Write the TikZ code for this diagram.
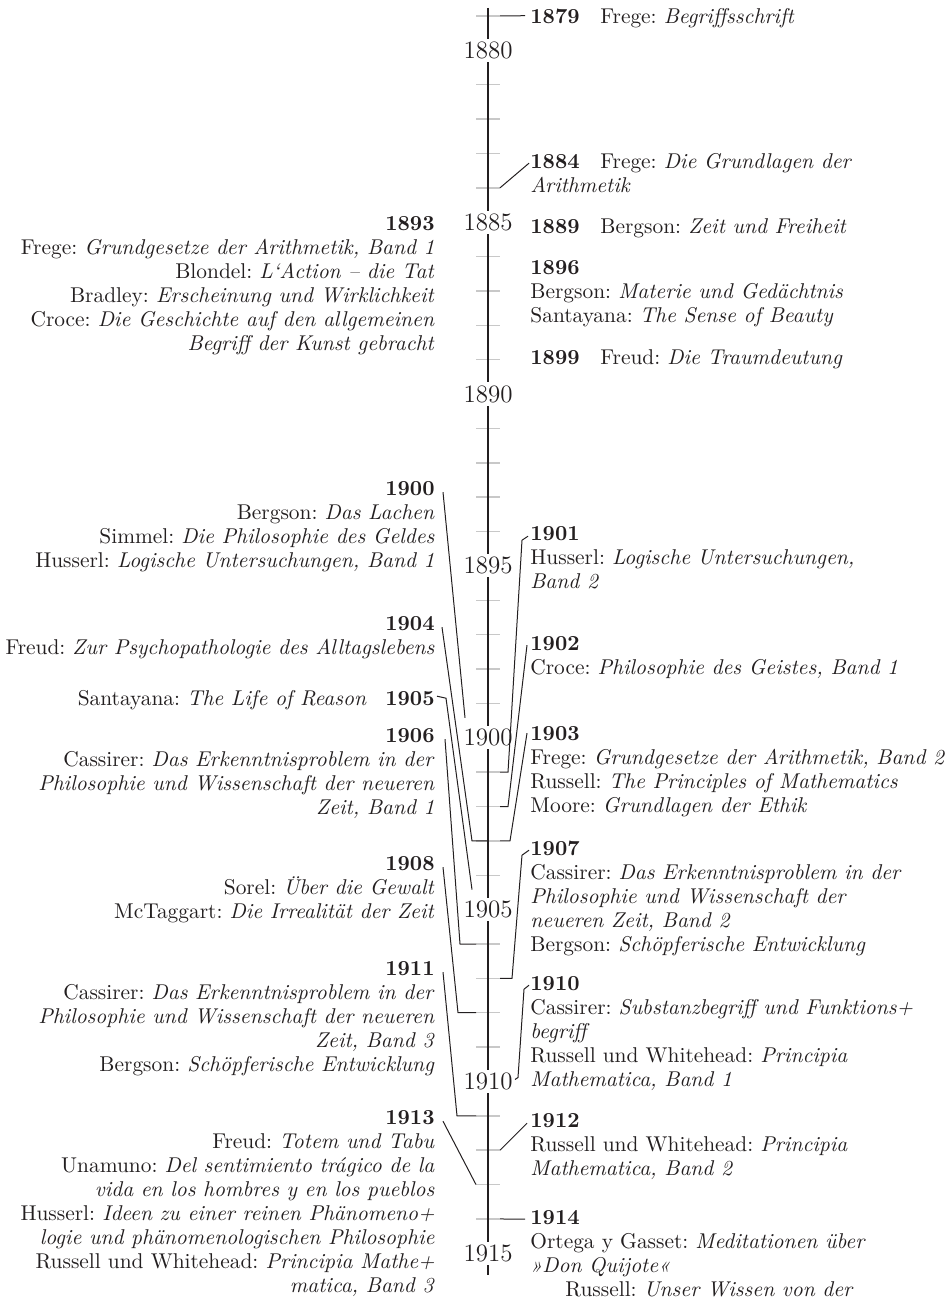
\documentclass[tikz,border=0pt]{standalone}
\usepackage{fontspec}
\frenchspacing
\definecolor{ink}{HTML}{231F20}
\definecolor{tickgray}{HTML}{C8C8C8}
\newcommand\yearhead[1]{\makebox[35pt][l]{\textbf{#1}}}
\newcommand\yeartail[1]{\makebox[34pt][r]{\textbf{#1}}}
\begin{document}
\begin{tikzpicture}[x=0.5pt,y=-0.5pt]
\tikzstyle{entry}=[inner sep=0pt,text=ink,font=\fontsize{10.7}{12}\selectfont,execute at begin node=\strut]
\tikzstyle{lefttext}=[entry,align=right,anchor=north east]
\tikzstyle{righttext}=[entry,align=left,anchor=north west]
\tikzstyle{tickmark}=[tickgray,line width=0.75pt]
\tikzstyle{link}=[ink,line width=0.5pt]
\tikzstyle{yearlabel}=[fill=white,inner sep=1.5pt,text=ink,font=\fontsize{12.5}{15}\selectfont]
\useasboundingbox (0,0) rectangle (947,1300);
\foreach \yr in {1879,...,1915}
{\pgfmathsetmacro\yy{16+(\yr-1879)*34.37}
 \coordinate (c\yr) at (488,\yy);
 \coordinate (tl\yr) at (476,\yy);
 \coordinate (tr\yr) at (500,\yy);
 \pgfmathtruncatemacro\m{mod(\yr,5)}
 \ifnum\m>0 \draw[tickmark] (tl\yr) -- (tr\yr); \fi}
\coordinate (axtop) at (488,8);
\coordinate (axbot) at (488,1275);
\draw[ink,line width=1pt] (axtop) -- (axbot);
\foreach \yr in {1880,1885,...,1915}
 \node[yearlabel] (y\yr) at (c\yr) {\yr};

\node[lefttext] (l1893) at (435,216.2) {\textbf{1893}\\
 Frege: \emph{Grundgesetze der Arithmetik, Band 1}\\
 Blondel: \emph{L‘Action – die Tat}\\
 Bradley: \emph{Erscheinung und Wirklichkeit}\\
 Croce: \emph{Die Geschichte auf den allgemeinen}\\
 \emph{Begriff der Kunst gebracht}};
\node[lefttext] (l1900) at (435,481.2) {\textbf{1900}\\
 Bergson: \emph{Das Lachen}\\
 Simmel: \emph{Die Philosophie des Geldes}\\
 Husserl: \emph{Logische Untersuchungen, Band 1}};
\node[lefttext] (l1904) at (435,616.2) {\textbf{1904}\\
 Freud: \emph{Zur Psychopathologie des Alltagslebens}};
\node[lefttext] (l1905) at (435,688.2) {Santayana: \emph{The Life of Reason}\yeartail{1905}};
\node[lefttext] (l1906) at (435,728.2) {\textbf{1906}\\
 Cassirer: \emph{Das Erkenntnisproblem in der}\\
 \emph{Philosophie und Wissenschaft der neueren}\\
 \emph{Zeit, Band 1}};
\node[lefttext] (l1908) at (435,856.2) {\textbf{1908}\\
 Sorel: \emph{Über die Gewalt}\\
 McTaggart: \emph{Die Irrealität der Zeit}};
\node[lefttext] (l1911) at (435,961.2) {\textbf{1911}\\
 Cassirer: \emph{Das Erkenntnisproblem in der}\\
 \emph{Philosophie und Wissenschaft der neueren}\\
 \emph{Zeit, Band 3}\\
 Bergson: \emph{Schöpferische Entwicklung}};
\node[lefttext] (l1913) at (435,1110.2) {\textbf{1913}\\
 Freud: \emph{Totem und Tabu}\\
 Unamuno: \emph{Del sentimiento trágico de la}\\
 \emph{vida en los hombres y en los pueblos}\\
 Husserl: \emph{Ideen zu einer reinen Phänomeno+}\\
 \emph{logie und phänomenologischen Philosophie}\\
 Russell und Whitehead: \emph{Principia Mathe+}\\
 \emph{matica, Band 3}};

\node[righttext] (r1879) at (530,6.7) {\yearhead{1879}Frege: \emph{Begriffsschrift}};
\node[righttext] (r1884) at (530,153.2) {\yearhead{1884}Frege: \emph{Die Grundlagen der}\\
 \emph{Arithmetik}};
\node[righttext] (r1889) at (530,216.2) {\yearhead{1889}Bergson: \emph{Zeit und Freiheit}};
\node[righttext] (r1896) at (530,260.2) {\textbf{1896}\\
 Bergson: \emph{Materie und Gedächtnis}\\
 Santayana: \emph{The Sense of Beauty}};
\node[righttext] (r1899) at (530,347.2) {\yearhead{1899}Freud: \emph{Die Traumdeutung}};
\node[righttext] (r1901) at (530,526.2) {\textbf{1901}\\
 Husserl: \emph{Logische Untersuchungen,}\\
 \emph{Band 2}};
\node[righttext] (r1902) at (530,636.2) {\textbf{1902}\\
 Croce: \emph{Philosophie des Geistes, Band 1}};
\node[righttext] (r1903) at (530,726.2) {\textbf{1903}\\
 Frege: \emph{Grundgesetze der Arithmetik, Band 2}\\
 Russell: \emph{The Principles of Mathematics}\\
 Moore: \emph{Grundlagen der Ethik}};
\node[righttext] (r1907) at (530,840.2) {\textbf{1907}\\
 Cassirer: \emph{Das Erkenntnisproblem in der}\\
 \emph{Philosophie und Wissenschaft der}\\
 \emph{neueren Zeit, Band 2}\\
 Bergson: \emph{Schöpferische Entwicklung}};
\node[righttext] (r1910) at (530,976.2) {\textbf{1910}\\
 Cassirer: \emph{Substanzbegriff und Funktions+}\\
 \emph{begriff}\\
 Russell und Whitehead: \emph{Principia}\\
 \emph{Mathematica, Band 1}};
\node[righttext] (r1912) at (530,1113.2) {\textbf{1912}\\
 Russell und Whitehead: \emph{Principia}\\
 \emph{Mathematica, Band 2}};
\node[righttext] (r1914) at (530,1210.2) {\textbf{1914}\\
 Ortega y Gasset: \emph{Meditationen über}\\
 \emph{»Don Quijote«}\\
 \hspace*{17.5pt}Russell: \emph{Unser Wissen von der}};

\draw[link] ([shift={(8,11)}]l1900.north east) -- ([shift={(-23,-20)}]c1900);
\draw[link] ([shift={(7,11)}]l1904.north east) -- ([shift={(-16,0)}]c1903) -- (c1903);
\draw[link] ([shift={(2,8)}]l1905.north east) -- ([shift={(11,10)}]l1905.north east) -- ([shift={(-16,-20)}]c1905);
\draw[link] ([shift={(10,11)}]l1906.north east) -- ([shift={(-16,0)}]tl1906) -- (tl1906);
\draw[link] ([shift={(8,11)}]l1908.north east) -- ([shift={(-18,0)}]tl1908) -- (tl1908);
\draw[link] ([shift={(8,11)}]l1911.north east) -- ([shift={(-19,0)}]tl1911) -- (tl1911);
\draw[link] ([shift={(8,11)}]l1913.north east) -- (tl1913);

\draw[link] ([shift={(-5,9)}]r1879.north west) -- (tr1879);
\draw[link] ([shift={(-1,10)}]r1884.north west) -- (tr1884);
\draw[link] ([shift={(-2,10)}]r1901.north west) -- ([shift={(-8,14)}]r1901.north west) -- ([shift={(8,0)}]tr1901) -- (tr1901);
\draw[link] ([shift={(-3,9)}]r1902.north west) -- ([shift={(8,0)}]tr1902) -- (tr1902);
\draw[link] ([shift={(-3,7)}]r1903.north west) -- ([shift={(10,0)}]tr1903) -- (tr1903);
\draw[link] ([shift={(-1,10)}]r1907.north west) -- ([shift={(-8,15)}]r1907.north west) -- ([shift={(12,0)}]tr1907) -- (tr1907);
\draw[link] ([shift={(-1,9)}]r1910.north west) -- ([shift={(-6,13)}]r1910.north west) -- ([shift={(30,-4)}]c1910) -- ([shift={(27,-2)}]c1910);
\draw[link] ([shift={(-3,10)}]r1912.north west) -- (tr1912);
\draw[link] ([shift={(-5,9)}]r1914.north west) -- (tr1914);
\end{tikzpicture}
\end{document}
